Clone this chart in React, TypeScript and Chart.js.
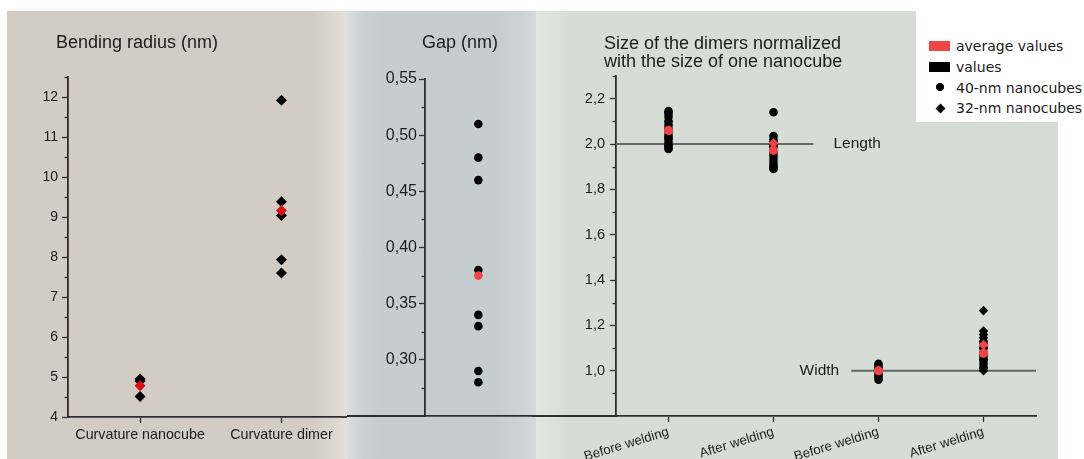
import React, { useEffect, useRef } from 'react';
import { Chart, registerables } from 'chart.js';

Chart.register(...registerables);

// ---------- Panel 1: bending radius ----------
const bendCategories = ['Curvature nanocube', 'Curvature dimer'];
const bendValues = [
  [4.95, 4.9, 4.51],
  [11.92, 9.38, 9.04, 7.93, 7.6],
];
const bendAverages = [4.78, 9.16];
const bendTicks = [4, 5, 6, 7, 8, 9, 10, 11, 12];

// ---------- Panel 2: gap ----------
const gapValues = [0.51, 0.48, 0.46, 0.38, 0.34, 0.33, 0.29, 0.28];
const gapAverage = 0.375;
const gapTicks = [0.3, 0.35, 0.4, 0.45, 0.5, 0.55];

// ---------- Panel 3: normalized dimer size ----------
const sizeCategories = ['Before welding', 'After welding', 'Before welding', 'After welding'];
const size40Values = [
  [2.145, 2.135, 2.12, 2.1, 2.085, 2.07, 2.055, 2.04, 2.03, 2.02, 2.005, 1.995, 1.985, 1.978],
  [2.14, 2.035, 2.02, 2.0, 1.985, 1.965, 1.95, 1.935, 1.92, 1.905, 1.895, 1.89],
  [1.03, 1.02, 1.01, 1.0, 0.99, 0.98, 0.97, 0.96],
  [1.12, 1.1, 1.08, 1.06, 1.045, 1.03, 1.015],
];
const size32Values = [
  [],
  [2.01, 1.99],
  [],
  [1.265, 1.175, 1.16, 1.145, 1.13, 1.1, 1.07, 1.05, 1.01, 1.0],
];
const size40Averages = [2.06, 1.972, 1.0, 1.077];
const size32Averages = [null, 2.003, null, 1.114];
const sizeTicks = [1.0, 1.2, 1.4, 1.6, 1.8, 2.0, 2.2];
const lengthLine = { label: 'Length', y: 2.0, xFrom: 0.5, xTo: 2.38 };
const widthLine = { label: 'Width', y: 1.0, xFrom: 2.74, xTo: 4.5 };

// ---------- styling ----------
const FONT = "'Liberation Sans', Arial, Helvetica, sans-serif";
const LEGEND_FONT = "'DejaVu Sans', Verdana, sans-serif";
const TEXT = '#1c1c1c';
const AXIS = '#2e2e2e';
const RED = '#f04545';
const DARK_RED = '#d81010';

Chart.defaults.font.family = FONT;

const minorTicksPlugin = {
  id: 'minorTicks',
  afterDraw(chart: any) {
    const s = chart.scales.y;
    if (!s) return;
    const vals = s.ticks.map((t: any) => t.value);
    if (vals.length < 2) return;
    const step = vals[1] - vals[0];
    const minors: number[] = [];
    const eps = 1e-9;
    if (vals[0] - step / 2 >= s.min - eps) minors.push(vals[0] - step / 2);
    for (let i = 0; i < vals.length - 1; i++) minors.push((vals[i] + vals[i + 1]) / 2);
    if (vals[vals.length - 1] + step / 2 <= s.max + eps) minors.push(vals[vals.length - 1] + step / 2);
    const ctx = chart.ctx;
    const left = chart.chartArea.left;
    ctx.save();
    ctx.strokeStyle = AXIS;
    ctx.lineWidth = 1.3;
    for (const v of minors) {
      const py = Math.round(s.getPixelForValue(v)) + 0.5;
      ctx.beginPath();
      ctx.moveTo(left - 3.5, py);
      ctx.lineTo(left, py);
      ctx.stroke();
    }
    ctx.restore();
  },
};

const baselinePlugin = {
  id: 'baseline',
  afterDraw(chart: any, _args: any, opts: any) {
    if (!opts) return;
    const ctx = chart.ctx;
    const y = chart.chartArea.bottom;
    ctx.save();
    ctx.strokeStyle = AXIS;
    ctx.lineWidth = 1.8;
    ctx.beginPath();
    if (opts.extendLeft) {
      ctx.moveTo(0, y);
      ctx.lineTo(chart.chartArea.left, y);
    }
    if (opts.extendRight) {
      ctx.moveTo(chart.chartArea.right, y);
      ctx.lineTo(chart.width, y);
    }
    ctx.stroke();
    ctx.restore();
  },
};

const lineLabelPlugin = {
  id: 'lineLabels',
  afterDatasetsDraw(chart: any, _args: any, opts: any) {
    if (!opts || !opts.items) return;
    const ctx = chart.ctx;
    const xs = chart.scales.x;
    const ys = chart.scales.y;
    ctx.save();
    ctx.fillStyle = TEXT;
    ctx.font = `15.5px ${FONT}`;
    ctx.textBaseline = 'middle';
    for (const it of opts.items) {
      ctx.textAlign = it.align;
      ctx.fillText(it.text, xs.getPixelForValue(it.x) + it.dx, ys.getPixelForValue(it.y));
    }
    ctx.restore();
  },
};

function yAxis(o: { min: number; max: number; ticks: number[]; fmt: (v: number) => string; width: number; size: number; padding: number }) {
  return {
    type: 'linear',
    min: o.min,
    max: o.max,
    bounds: 'data',
    afterBuildTicks: (s: any) => {
      s.ticks = o.ticks.map((v) => ({ value: v }));
    },
    afterFit: (s: any) => {
      s.width = o.width;
      s.paddingTop = 0;
      s.paddingBottom = 0;
    },
    ticks: {
      autoSkip: false,
      callback: (v: any) => o.fmt(Number(v)),
      font: { family: FONT, size: o.size },
      color: TEXT,
      padding: o.padding,
    },
    grid: { drawOnChartArea: false, drawTicks: true, tickLength: 6, tickWidth: 1.3, tickColor: AXIS },
    border: { display: true, color: AXIS, width: 1.8 },
  };
}

function xAxis(o: { min: number; max: number; labels: string[]; height: number; size: number; padding: number; rotation: number; showTicks: boolean }) {
  return {
    type: 'linear',
    min: o.min,
    max: o.max,
    bounds: 'data',
    afterBuildTicks: (s: any) => {
      s.ticks = o.labels.map((_l, i) => ({ value: i + 1 }));
    },
    afterFit: (s: any) => {
      s.height = o.height;
      s.paddingLeft = 0;
      s.paddingRight = 0;
    },
    ticks: {
      display: o.showTicks,
      autoSkip: false,
      minRotation: o.rotation,
      maxRotation: o.rotation,
      callback: (_v: any, i: number) => o.labels[i],
      font: { family: FONT, size: o.size },
      color: TEXT,
      padding: o.padding,
    },
    grid: { display: o.showTicks, drawOnChartArea: false, drawTicks: true, tickLength: 6, tickWidth: 1.3, tickColor: AXIS },
    border: { display: true, color: AXIS, width: 1.8 },
  };
}

function toPoints(groups: number[][]) {
  const pts: { x: number; y: number }[] = [];
  groups.forEach((g, i) => g.forEach((v) => pts.push({ x: i + 1, y: v })));
  return pts;
}
function avgPoints(arr: (number | null)[]) {
  const pts: { x: number; y: number }[] = [];
  arr.forEach((v, i) => {
    if (v !== null) pts.push({ x: i + 1, y: v });
  });
  return pts;
}

const baseOptions = (padding: any, plugins: any, scales: any) => ({
  responsive: false,
  animation: false,
  events: [],
  layout: { padding },
  plugins: { legend: { display: false }, tooltip: { enabled: false }, title: { display: false }, ...plugins },
  scales,
});

function bendConfig(): any {
  return {
    type: 'scatter',
    data: {
      datasets: [
        { label: 'average', data: avgPoints(bendAverages), pointStyle: 'rectRot', pointRadius: 5.5, backgroundColor: DARK_RED, borderWidth: 0 },
        { label: 'values', data: toPoints(bendValues), pointStyle: 'rectRot', pointRadius: 5.5, backgroundColor: '#000', borderWidth: 0 },
      ],
    },
    options: baseOptions({ top: 66, right: 0, left: 0, bottom: 0 }, { baseline: { extendRight: true } }, {
      x: xAxis({ min: 0.49, max: 2.425, labels: bendCategories, height: 42, size: 14.3, padding: 3, rotation: 0, showTicks: true }),
      y: yAxis({ min: 4, max: 12.5, ticks: bendTicks, fmt: (v) => String(Math.round(v)), width: 61, size: 14, padding: 4 }),
    }),
    plugins: [minorTicksPlugin, baselinePlugin],
  };
}

function gapConfig(): any {
  return {
    type: 'scatter',
    data: {
      datasets: [
        { label: 'average', data: [{ x: 1, y: gapAverage }], pointStyle: 'circle', pointRadius: 4.3, backgroundColor: RED, borderWidth: 0 },
        { label: 'values', data: gapValues.map((v) => ({ x: 1, y: v })), pointStyle: 'circle', pointRadius: 4.3, backgroundColor: '#000', borderWidth: 0 },
      ],
    },
    options: baseOptions({ top: 68, right: 3, left: 0, bottom: 0 }, { baseline: { extendLeft: true, extendRight: true } }, {
      x: xAxis({ min: 0.5, max: 1.5, labels: [''], height: 43, size: 13, padding: 3, rotation: 0, showTicks: false }),
      y: yAxis({ min: 0.25, max: 0.55, ticks: gapTicks, fmt: (v) => v.toFixed(2).replace('.', ','), width: 78, size: 16, padding: 2 }),
    }),
    plugins: [minorTicksPlugin, baselinePlugin],
  };
}

function sizeConfig(): any {
  return {
    type: 'scatter',
    data: {
      datasets: [
        { label: '40-nm average', data: avgPoints(size40Averages), pointStyle: 'circle', pointRadius: 4.6, backgroundColor: RED, borderWidth: 0 },
        { label: '32-nm average', data: avgPoints(size32Averages), pointStyle: 'rectRot', pointRadius: 5, backgroundColor: RED, borderWidth: 0 },
        { label: '40-nm', data: toPoints(size40Values), pointStyle: 'circle', pointRadius: 4.3, backgroundColor: '#000', borderWidth: 0 },
        { label: '32-nm', data: toPoints(size32Values), pointStyle: 'rectRot', pointRadius: 4.8, backgroundColor: '#000', borderWidth: 0 },
        {
          label: lengthLine.label, type: 'line', showLine: true, pointRadius: 0, borderColor: '#666', borderWidth: 2,
          data: [{ x: lengthLine.xFrom, y: lengthLine.y }, { x: lengthLine.xTo, y: lengthLine.y }],
        },
        {
          label: widthLine.label, type: 'line', showLine: true, pointRadius: 0, borderColor: '#666', borderWidth: 2,
          data: [{ x: widthLine.xFrom, y: widthLine.y }, { x: widthLine.xTo, y: widthLine.y }],
        },
      ],
    },
    options: baseOptions({ top: 65, right: 22, left: 0, bottom: 0 }, {
      baseline: { extendLeft: true },
      lineLabels: {
        items: [
          { text: lengthLine.label, x: lengthLine.xTo, y: lengthLine.y, dx: 20, align: 'left' },
          { text: widthLine.label, x: widthLine.xFrom, y: widthLine.y, dx: -12, align: 'right' },
        ],
      },
    }, {
      x: xAxis({ min: 0.5, max: 4.5, labels: sizeCategories, height: 43, size: 13.3, padding: 2, rotation: 17, showTicks: true }),
      y: yAxis({ min: 0.8, max: 2.3, ticks: sizeTicks, fmt: (v) => v.toFixed(1).replace('.', ','), width: 80, size: 14.5, padding: 5 }),
    }),
    plugins: [minorTicksPlugin, baselinePlugin, lineLabelPlugin],
  };
}

function ChartCanvas(props: { left: number; top: number; width: number; height: number; config: () => any }) {
  const ref = useRef<HTMLCanvasElement>(null);
  useEffect(() => {
    const chart = new Chart(ref.current as HTMLCanvasElement, props.config());
    return () => chart.destroy();
  }, []);
  return (
    <canvas
      ref={ref}
      width={props.width}
      height={props.height}
      style={{ position: 'absolute', left: props.left, top: props.top, width: props.width, height: props.height }}
    />
  );
}

const abs = (l: number, t: number, w: number, h: number): React.CSSProperties => ({ position: 'absolute', left: l, top: t, width: w, height: h });

const titleStyle = (left: number, top: number, size: number): React.CSSProperties => ({
  position: 'absolute', left, top, fontFamily: FONT, fontSize: size, lineHeight: '18px', color: TEXT, whiteSpace: 'nowrap',
});

const legendText: React.CSSProperties = { position: 'absolute', left: 956, fontFamily: LEGEND_FONT, fontSize: 14, lineHeight: '20px', color: TEXT, whiteSpace: 'nowrap' };

export default function App() {
  return (
    <div style={{ position: 'fixed', left: 0, top: 0, width: 1084, height: 459, background: '#fff', overflow: 'hidden' }}>
      <div style={{ ...abs(7, 11, 340, 448), background: 'linear-gradient(to right, #d3ccc4 0px, #d3ccc4 305px, #dbd6ce 325px, #e3e0da 340px)' }} />
      <div style={{ ...abs(347, 11, 189, 448), background: 'linear-gradient(to right, #d9dfe1 0px, #c9d1d4 16px, #c5cdd1 35px, #c5cdd1 150px, #cbd3d6 172px, #d3dadd 189px)' }} />
      <div style={{ ...abs(536, 11, 522, 448), background: 'linear-gradient(to right, #e2e6e1 0px, #d6ddd6 35px, #d6ddd6 100%)' }} />

      <ChartCanvas left={7} top={11} width={340} height={448} config={bendConfig} />
      <ChartCanvas left={347} top={11} width={189} height={448} config={gapConfig} />
      <ChartCanvas left={536} top={11} width={522} height={448} config={sizeConfig} />

      <div style={titleStyle(56, 33, 18)}>Bending radius (nm)</div>
      <div style={titleStyle(422, 33, 18)}>Gap (nm)</div>
      <div style={titleStyle(604, 34, 18)}>
        Size of the dimers normalized
        <br />
        with the size of one nanocube
      </div>

      <div style={{ ...abs(916, 0, 168, 122), background: '#fff' }} />
      <div style={{ ...abs(929, 41, 21, 10), background: RED }} />
      <div style={{ ...legendText, top: 36 }}>average values</div>
      <div style={{ ...abs(929, 62, 21, 10), background: '#000' }} />
      <div style={{ ...legendText, top: 57 }}>values</div>
      <div style={{ ...abs(936, 83, 8, 8), background: '#000', borderRadius: '50%' }} />
      <div style={{ ...legendText, top: 77.5 }}>40-nm nanocubes</div>
      <div style={{ ...abs(936.5, 104.5, 7, 7), background: '#000', transform: 'rotate(45deg)' }} />
      <div style={{ ...legendText, top: 98 }}>32-nm nanocubes</div>
    </div>
  );
}
